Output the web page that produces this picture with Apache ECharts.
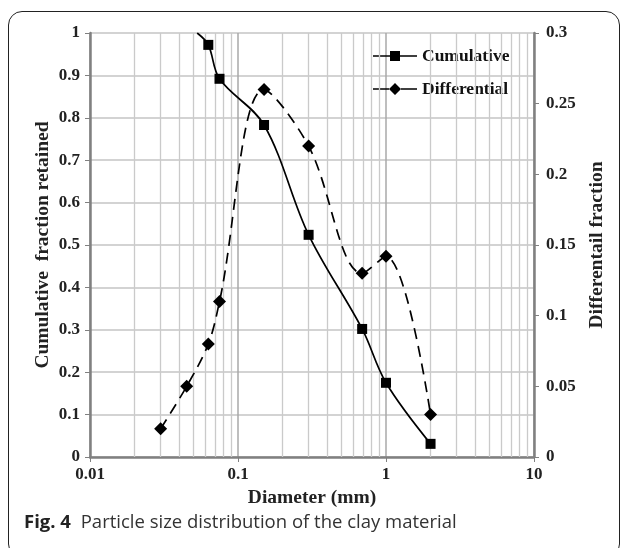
<!DOCTYPE html>
<html>
<head>
<meta charset="utf-8">
<script src="https://cdn.jsdelivr.net/npm/echarts@6/dist/echarts.min.js"></script>
<style>
  html, body { margin: 0; padding: 0; background: #fff; }
  .frame {
    position: absolute; left: 8px; top: 11px; width: 610px; height: 545px;
    border: 1px solid #222; border-radius: 14px;
  }
  #chart { position: absolute; left: 0; top: 0; width: 627px; height: 548px; }
  .caption {
    position: absolute; left: 24px; top: 508px;
    font-family: 'Open Sans', 'Noto Sans', sans-serif; font-size: 18.5px; color: #333;
  }
  .caption b { color: #222; margin-right: 5px; }
</style>
</head>
<body>
<div class="frame"></div>
<div id="chart"></div>
<div class="caption"><b>Fig. 4</b> Particle size distribution of the clay material</div>
<script>
// diameter (mm) vs cumulative fraction retained
const cumDiameters = [0.053, 0.063, 0.075, 0.15, 0.3, 0.69, 1.0, 2.0]
const cumValues = [1.0, 0.972, 0.892, 0.783, 0.524, 0.302, 0.175, 0.031]

// diameter (mm) vs differential fraction
const diffDiameters = [0.03, 0.045, 0.063, 0.075, 0.15, 0.3, 0.69, 1.0, 2.0]
const diffValues = [0.02, 0.05, 0.08, 0.11, 0.26, 0.22, 0.13, 0.142, 0.03]

// minor log grid lines (2..9 of each decade)
const minorLines = [
  0.02, 0.03, 0.04, 0.05, 0.06, 0.07, 0.08, 0.09,
  0.2, 0.3, 0.4, 0.5, 0.6, 0.7, 0.8, 0.9,
  2, 3, 4, 5, 6, 7, 8, 9
]

const serif = '"Liberation Serif", "DejaVu Serif", serif'
const chart = echarts.init(document.getElementById('chart'))

// legend icons: solid line with the marker in the middle
const squareIcon = 'path://M0,5.2H17V6.8H0Z M17,1H27V11H17Z M27,5.2H44V6.8H27Z'
const diamondIcon = 'path://M0,5.2H16V6.8H0Z M22,0L28,6L22,12L16,6Z M28,5.2H44V6.8H28Z'

const cumData = cumDiameters.map((d, i) => {
  const item = { value: [d, cumValues[i]] }
  if (i === 0) item.symbol = 'none'
  return item
})
const diffData = diffDiameters.map((d, i) => [d, diffValues[i]])

const labelStyle = { fontFamily: serif, fontSize: 17, fontWeight: 'bold', color: '#222' }
const nameStyle = { fontFamily: serif, fontSize: 19.5, fontWeight: 'bold', color: '#222' }

const option = {
  animation: false,
  textStyle: { fontFamily: serif },
  grid: { left: 90, right: 93, top: 33, bottom: 91 },
  legend: {
    top: 42,
    left: 368,
    orient: 'vertical',
    itemWidth: 44,
    itemHeight: 12,
    itemGap: 15,
    symbolKeepAspect: true,
    textStyle: { fontFamily: serif, fontSize: 17.5, fontWeight: 'bold', color: '#111' },
    data: [
      { name: 'Cumulative', icon: squareIcon },
      { name: 'Differential', icon: diamondIcon }
    ]
  },
  xAxis: {
    type: 'log',
    logBase: 10,
    min: 0.01,
    max: 10,
    name: 'Diameter (mm)',
    nameLocation: 'middle',
    nameGap: 30,
    nameTextStyle: nameStyle,
    axisLine: { lineStyle: { color: '#808080', width: 2.5 } },
    axisTick: { show: true, length: 5, lineStyle: { color: '#808080' } },
    axisLabel: Object.assign({ margin: 9, formatter: v => String(+v.toPrecision(3)) }, labelStyle),
    splitLine: { show: true, lineStyle: { color: '#a8a8a8', width: 1.5 } }
  },
  yAxis: [
    {
      type: 'value',
      min: 0,
      max: 1,
      interval: 0.1,
      name: 'Cumulative  fraction retained',
      nameLocation: 'middle',
      nameRotate: 90,
      nameGap: 37,
      nameMoveOverlap: false,
      nameTextStyle: nameStyle,
      axisLine: { show: true, lineStyle: { color: '#808080', width: 2.5 } },
      axisTick: { show: true, length: 5, lineStyle: { color: '#808080' } },
      axisLabel: Object.assign({ margin: 10 }, labelStyle),
      splitLine: { show: true, lineStyle: { color: '#c4c4c4', width: 1.5 } }
    },
    {
      type: 'value',
      position: 'right',
      min: 0,
      max: 0.3,
      interval: 0.05,
      name: 'Differentail fraction',
      nameLocation: 'middle',
      nameRotate: 90,
      nameGap: 48,
      nameTextStyle: nameStyle,
      axisLine: { show: true, lineStyle: { color: '#808080', width: 2.5 } },
      axisTick: { show: true, length: 5, lineStyle: { color: '#808080' } },
      axisLabel: Object.assign({ margin: 12 }, labelStyle),
      splitLine: { show: false }
    }
  ],
  series: [
    {
      name: 'minor',
      type: 'line',
      data: [],
      silent: true,
      z: 1,
      markLine: {
        silent: true,
        symbol: 'none',
        label: { show: false },
        lineStyle: { color: '#cacaca', type: 'solid', width: 1.3 },
        data: minorLines.map(v => ({ xAxis: v }))
      }
    },
    {
      name: 'Cumulative',
      type: 'line',
      yAxisIndex: 0,
      smooth: 0.35,
      symbol: 'rect',
      symbolSize: 10,
      z: 5,
      itemStyle: { color: '#000' },
      lineStyle: { color: '#000', width: 1.7 },
      data: cumData
    },
    {
      name: 'Differential',
      type: 'line',
      yAxisIndex: 1,
      smooth: 0.35,
      symbol: 'diamond',
      symbolSize: 13,
      z: 5,
      itemStyle: { color: '#000' },
      lineStyle: { color: '#000', width: 1.7, type: [11, 7] },
      data: diffData
    }
  ]
}

chart.setOption(option)
</script>
</body>
</html>
